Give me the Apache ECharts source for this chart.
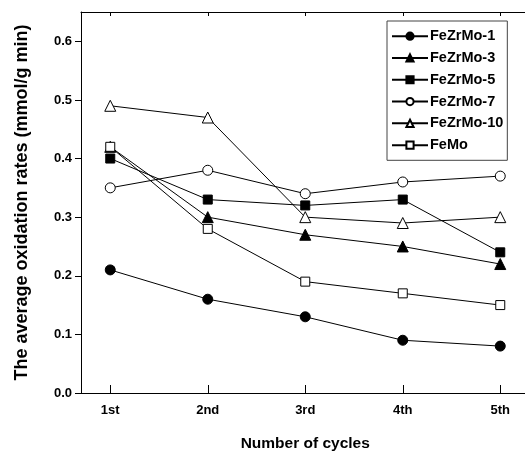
<!DOCTYPE html>
<html><head><meta charset="utf-8">
<script src="https://cdn.jsdelivr.net/npm/echarts@6/dist/echarts.min.js"></script>
<style>html,body{margin:0;padding:0;background:#fff;}#c{width:525px;height:452px;}</style>
</head><body><div id="c"></div>
<script>
const categories = ['1st', '2nd', '3rd', '4th', '5th'];
const seriesNames = ['FeZrMo-1', 'FeZrMo-3', 'FeZrMo-5', 'FeZrMo-7', 'FeZrMo-10', 'FeMo'];
const feZrMo1 = [0.21, 0.16, 0.13, 0.09, 0.08];
const feZrMo3 = [0.42, 0.30, 0.27, 0.25, 0.22];
const feZrMo5 = [0.40, 0.33, 0.32, 0.33, 0.24];
const feZrMo7 = [0.35, 0.38, 0.34, 0.36, 0.37];
const feZrMo10 = [0.49, 0.47, 0.30, 0.29, 0.30];
const feMo = [0.42, 0.28, 0.19, 0.17, 0.15];
const yTicks = [0, 0.1, 0.2, 0.3, 0.4, 0.5, 0.6];

const allValues = [feZrMo1, feZrMo3, feZrMo5, feZrMo7, feZrMo10, feMo];
const symbols = ['circle', 'triangle', 'rect', 'circle', 'triangle', 'rect'];
const filled = [true, true, true, false, false, false];
const sizes = [10, 11, 9, 10, 11, 9];
const xPos = categories.map((c, i) => i + 1);
const font = '"Liberation Sans", Arial, sans-serif';

const chart = echarts.init(document.getElementById('c'), null, {renderer: 'canvas'});
chart.setOption({
  animation: false,
  backgroundColor: '#fff',
  grid: {left: 81, top: 12, width: 448.5, height: 381, containLabel: false, outerBoundsMode: 'none'},
  legend: {
    orient: 'vertical',
    left: 387, top: 21,
    padding: [7, 4, 7, 4],
    itemGap: 5.5,
    itemWidth: 36, itemHeight: 9,
    borderColor: '#444', borderWidth: 1,
    backgroundColor: '#fff',
    textStyle: {fontFamily: font, fontWeight: 'bold', fontSize: 14.5, color: '#000', padding: [0,0,0,-3], lineHeight: 16.3},
    data: seriesNames
  },
  xAxis: [{
    type: 'value', min: 0.7, max: 5.3,
    name: 'Number of cycles', nameLocation: 'middle', nameGap: 43,
    nameTextStyle: {fontFamily: font, fontWeight: 'bold', fontSize: 15.5, color: '#000'},
    axisLine: {show: true, lineStyle: {color: '#000', width: 1}},
    axisTick: {show: true, inside: true, length: 8, lineStyle: {color: '#000'}, customValues: xPos},
    axisLabel: {show: true, margin: 11, fontFamily: font, fontWeight: 'bold', fontSize: 13, color: '#000',
      customValues: xPos, formatter: v => categories[Math.round(v) - 1] || ''},
    splitLine: {show: false}
  }, {
    type: 'value', min: 0.7, max: 5.3, position: 'top',
    axisLine: {show: true, onZero: false, lineStyle: {color: '#000', width: 1}},
    axisTick: {show: true, inside: true, length: 4, lineStyle: {color: '#000'}, customValues: xPos},
    axisLabel: {show: false},
    splitLine: {show: false}
  }],
  yAxis: {
    type: 'value', min: 0, max: 0.65,
    name: 'The average oxidation rates (mmol/g min)', nameLocation: 'middle', nameGap: 50,
    nameTextStyle: {fontFamily: font, fontWeight: 'bold', fontSize: 18, color: '#000'},
    axisLine: {show: true, lineStyle: {color: '#000', width: 1}},
    axisTick: {show: true, inside: false, length: 6, lineStyle: {color: '#000'}, customValues: yTicks},
    axisLabel: {show: true, margin: 9, fontFamily: font, fontWeight: 'bold', fontSize: 13, color: '#000',
      customValues: yTicks, formatter: v => v.toFixed(1)},
    splitLine: {show: false}
  },
  series: seriesNames.map((name, k) => ({
    name: name,
    type: 'line',
    xAxisIndex: 0,
    data: allValues[k].map((v, i) => [xPos[i], v]),
    symbol: symbols[k],
    symbolSize: sizes[k],
    showAllSymbol: true,
    lineStyle: {color: '#000', width: 1},
    itemStyle: {color: filled[k] ? '#000' : '#fff', borderColor: '#000', borderWidth: 1},
    z: 2
  }))
});
</script></body></html>
